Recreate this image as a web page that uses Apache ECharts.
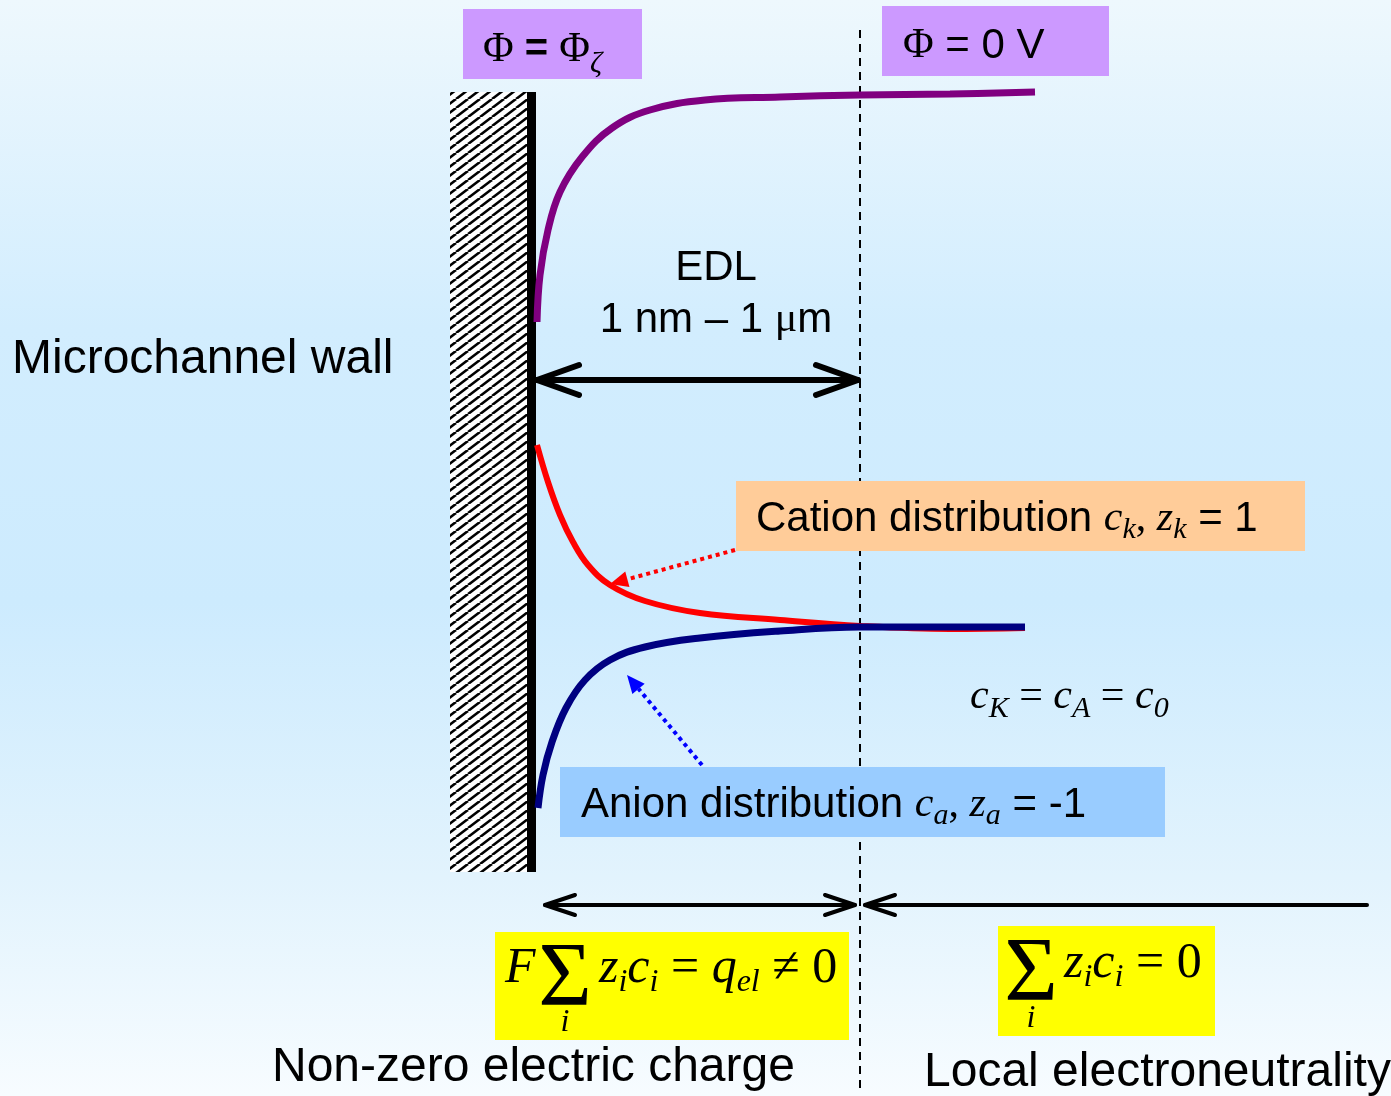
<!DOCTYPE html>
<html>
<head>
<meta charset="utf-8">
<title>Electric double layer</title>
<script src="https://cdn.jsdelivr.net/npm/echarts@6/dist/echarts.min.js"></script>
<style>
  html, body { margin: 0; padding: 0; }
  #main { width: 1391px; height: 1096px; }
</style>
</head>
<body>
<div id="main"></div>
<script>
  // page pixel space: x to the right, y downwards
  const pageX = [0, 1391]
  const pageY = [0, 1096]

  // curves
  const potential = [[537, 322], [540, 275], [548, 230], [560, 192], [582, 157], [612, 128], [650, 110], [705, 100], [780, 97], [860, 95], [950, 94], [1035, 92]]
  const cation = [[537, 445], [548, 482], [560, 515], [573, 542], [588, 565], [610, 585], [645, 601], [700, 613], [780, 620], [860, 626], [950, 629], [1025, 628]]
  const anion = [[538, 808], [543, 775], [552, 742], [566, 708], [585, 680], [610, 660], [645, 647], [700, 638], [780, 631], [860, 627], [950, 627], [1025, 627]]

  const edlBoundary = [[860, 30], [860, 1088]]
  const wall = [[450, 92, 527, 872]]

  const SANS = '"Liberation Sans", Arial, sans-serif'
  const SERIF = '"Liberation Serif", "Times New Roman", serif'

  const arrows = [
    {from: [537, 380], to: [858, 380], both: true, color: '#000', width: 6, head: [42, 15], kind: 'chevron'},
    {from: [545, 905], to: [855, 905], both: true, color: '#000', width: 4, head: [30, 10], kind: 'chevron'},
    {from: [1367, 905], to: [865, 905], both: false, color: '#000', width: 4, head: [30, 10], kind: 'chevron'},
    {from: [735, 550], to: [610, 584], both: false, color: '#ff0000', width: 4, dash: [4, 4], head: [18, 8], kind: 'triangle'},
    {from: [702, 765], to: [627, 675], both: false, color: '#0000ff', width: 4, dash: [4, 4], head: [18, 8], kind: 'triangle'}
  ]

  // hatch pattern for the wall
  const hatch = document.createElement('canvas')
  hatch.width = 12
  hatch.height = 9
  const hctx = hatch.getContext('2d')
  hctx.fillStyle = '#fff'
  hctx.fillRect(0, 0, 12, 9)
  hctx.strokeStyle = '#000'
  hctx.lineWidth = 2.6
  ;[[0, 9, 12, 0], [-12, 9, 0, 0], [12, 9, 24, 0]].forEach(function (l) {
    hctx.beginPath()
    hctx.moveTo(l[0], l[1])
    hctx.lineTo(l[2], l[3])
    hctx.stroke()
  })

  function wallItem (params, api) {
    const p0 = api.coord([api.value(0), api.value(1)])
    const p1 = api.coord([api.value(2), api.value(3)])
    return {
      type: 'group',
      children: [
        {type: 'rect', shape: {x: p0[0], y: p0[1], width: p1[0] - p0[0], height: p1[1] - p0[1]}, style: {fill: {image: hatch, repeat: 'repeat'}}},
        {type: 'rect', shape: {x: p1[0], y: p0[1], width: 9, height: p1[1] - p0[1]}, style: {fill: '#000'}}
      ]
    }
  }

  function arrowItem (params, api) {
    const a = arrows[params.dataIndex]
    const p0 = api.coord(a.from)
    const p1 = api.coord(a.to)
    const children = []
    const ends = a.both ? [[p1, p0], [p0, p1]] : [[p0, p1]]
    let s1 = p1.slice()
    ends.forEach(function (e) {
      const t = e[0]
      const tip = e[1]
      const dx = tip[0] - t[0]
      const dy = tip[1] - t[1]
      const len = Math.hypot(dx, dy)
      const ux = dx / len
      const uy = dy / len
      const nx = -uy
      const ny = ux
      const L = a.head[0]
      const w = a.head[1]
      const b1 = [tip[0] - L * ux + w * nx, tip[1] - L * uy + w * ny]
      const b2 = [tip[0] - L * ux - w * nx, tip[1] - L * uy - w * ny]
      if (a.kind === 'triangle') {
        children.push({type: 'polygon', shape: {points: [tip, b1, b2]}, style: {fill: a.color}})
        if (tip === p1) s1 = [tip[0] - L * ux, tip[1] - L * uy]
      } else {
        children.push({type: 'polyline', shape: {points: [b1, tip, b2]}, style: {stroke: a.color, lineWidth: a.width, fill: null, lineCap: 'round', lineJoin: 'round'}})
      }
    })
    children.unshift({
      type: 'line',
      shape: {x1: p0[0], y1: p0[1], x2: s1[0], y2: s1[1]},
      style: {stroke: a.color, lineWidth: a.width, lineDash: a.dash || null, lineCap: a.dash ? 'butt' : 'round'}
    })
    return {type: 'group', children: children}
  }

  // text helpers
  const mctx = document.createElement('canvas').getContext('2d')
  function textRun (x, y, pieces, align) {
    const widths = pieces.map(function (p) { mctx.font = p[1]; return mctx.measureText(p[0]).width })
    const total = widths.reduce(function (s, w) { return s + w }, 0)
    let cx = align === 'center' ? x - total / 2 : x
    return pieces.map(function (p, i) {
      const el = {type: 'text', x: cx, y: y + (p[2] || 0), z: 30, style: {text: p[0], font: p[1], fill: '#000', verticalAlign: 'middle'}}
      cx += widths[i]
      return el
    })
  }
  function box (x0, y0, x1, y1, fill) {
    return {type: 'rect', z: 20, shape: {x: x0, y: y0, width: x1 - x0, height: y1 - y0}, style: {fill: fill}}
  }
  function single (x, y, text, font, align) {
    return {type: 'text', x: x, y: y, z: 30, style: {text: text, font: font, fill: '#000', verticalAlign: 'middle', align: align || 'left'}}
  }

  const sans = function (s) { return s + 'px ' + SANS }
  const serif = function (s) { return s + 'px ' + SERIF }
  const ital = function (s) { return 'italic ' + s + 'px ' + SERIF }

  const graphics = [].concat(
    box(463, 9, 642, 79, '#cc99ff'),
    textRun(483, 50, [['\u03a6', serif(42)], [' = ', 'bold ' + sans(40)], ['\u03a6', serif(42)], ['\u03b6', ital(30), 14]]),
    box(882, 6, 1109, 76, '#cc99ff'),
    textRun(903, 46, [['\u03a6', serif(42)], [' = 0 V', sans(42)]]),
    single(12, 360, 'Microchannel wall', sans(48)),
    single(716, 268, 'EDL', sans(42), 'center'),
    textRun(716, 320, [['1 nm \u2013 1 ', sans(42)], ['\u03bc', serif(42)], ['m', sans(42)]], 'center'),
    box(736, 481, 1305, 551, '#ffcc99'),
    textRun(756, 519, [['Cation distribution ', sans(42)], ['c', ital(42)], ['k', ital(30), 11], [', ', serif(42)], ['z', ital(42)], ['k', ital(30), 11], [' = 1', sans(42)]]),
    box(560, 767, 1165, 837, '#99ccff'),
    textRun(581, 805, [['Anion distribution ', sans(42)], ['c', ital(42)], ['a', ital(30), 11], [', ', serif(42)], ['z', ital(42)], ['a', ital(30), 11], [' = -1', sans(42)]]),
    textRun(970, 697, [['c', ital(42)], ['K', ital(30), 12], [' = ', serif(42)], ['c', ital(42)], ['A', ital(30), 12], [' = ', serif(42)], ['c', ital(42)], ['0', ital(30), 12]]),
    box(495, 932, 849, 1040, '#ffff00'),
    textRun(505, 969, [['F', ital(50)]]),
    single(565, 981, '\u03a3', serif(92), 'center'),
    single(565, 1023, 'i', ital(32), 'center'),
    textRun(599, 969, [['z', ital(50)], ['i', ital(32), 14], ['c', ital(50)], ['i', ital(32), 14], [' = ', serif(50)], ['q', ital(50)], ['el', ital(32), 14], [' \u2260 0', serif(50)]]),
    box(998, 926, 1215, 1036, '#ffff00'),
    single(1031, 976, '\u03a3', serif(92), 'center'),
    single(1031, 1019, 'i', ital(32), 'center'),
    textRun(1064, 964, [['z', ital(50)], ['i', ital(32), 14], ['c', ital(50)], ['i', ital(32), 14], [' = 0', serif(50)]]),
    single(272, 1068, 'Non-zero electric charge', sans(48)),
    single(924, 1073, 'Local electroneutrality', sans(48))
  )

  const chart = echarts.init(document.getElementById('main'))
  chart.setOption({
    animation: false,
    backgroundColor: new echarts.graphic.LinearGradient(0, 0, 0, 1, [
      {offset: 0, color: '#eef8fd'},
      {offset: 0.3, color: '#d2edfe'},
      {offset: 0.55, color: '#cdebfe'},
      {offset: 0.8, color: '#e2f3fd'},
      {offset: 1, color: '#f7fcff'}
    ]),
    grid: {left: 0, right: 0, top: 0, bottom: 0},
    xAxis: {type: 'value', min: pageX[0], max: pageX[1], show: false},
    yAxis: {type: 'value', min: pageY[0], max: pageY[1], inverse: true, show: false},
    series: [
      {
        type: 'line', data: edlBoundary, showSymbol: false, silent: true,
        lineStyle: {color: '#000', width: 2, type: [8, 6]}
      },
      {type: 'custom', data: wall, renderItem: wallItem, silent: true},
      {
        name: 'Potential', type: 'line', data: potential, smooth: 0.4, showSymbol: false,
        lineStyle: {color: '#800080', width: 7, cap: 'butt'}
      },
      {
        name: 'Cation', type: 'line', data: cation, smooth: 0.4, showSymbol: false,
        lineStyle: {color: '#ff0000', width: 6, cap: 'butt'}
      },
      {
        name: 'Anion', type: 'line', data: anion, smooth: 0.4, showSymbol: false,
        lineStyle: {color: '#000080', width: 7, cap: 'butt'}
      },
      {type: 'custom', data: arrows.map(function (a) { return a.from }), renderItem: arrowItem, silent: true, clip: false}
    ],
    graphic: graphics
  })
</script>
</body>
</html>
